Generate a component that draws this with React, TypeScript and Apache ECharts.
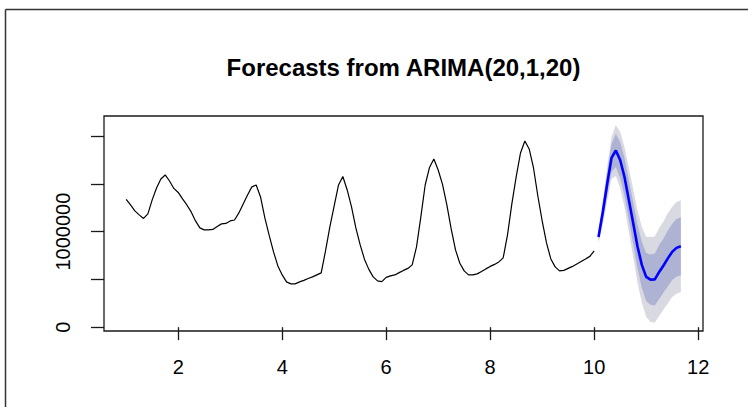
import React, { useEffect, useRef } from "react";
import * as echarts from "echarts";

// ---- data ----
const START_TIME = 1;
const FREQUENCY = 12;
const titleText = "Forecasts from ARIMA(20,1,20)";

const actual = [
  1337000, 1279000, 1217000, 1175000, 1138000, 1185000, 1332000, 1457000, 1551000, 1593000, 1530000, 1452000,
  1410000, 1342000, 1279000, 1206000, 1112000, 1039000, 1018000, 1018000, 1023000, 1054000, 1081000, 1086000,
  1112000, 1122000, 1196000, 1290000, 1384000, 1468000, 1488000, 1363000, 1143000, 960000, 788000, 641000,
  547000, 474000, 453000, 453000, 474000, 490000, 510000, 526000, 547000, 568000, 798000, 1049000,
  1269000, 1488000, 1577000, 1436000, 1258000, 1039000, 861000, 709000, 605000, 526000, 484000, 477000,
  521000, 537000, 547000, 571000, 594000, 615000, 652000, 840000, 1154000, 1488000, 1672000, 1760000,
  1645000, 1494000, 1279000, 1028000, 809000, 669000, 589000, 547000, 547000, 558000, 582000, 610000,
  636000, 657000, 683000, 725000, 966000, 1290000, 1572000, 1823000, 1949000, 1865000, 1666000, 1373000,
  1112000, 882000, 714000, 631000, 589000, 594000, 615000, 636000, 662000, 688000, 714000, 741000,
  798000,
];

const forecastMean = [
  944000, 1206000, 1499000, 1771000, 1849000, 1750000, 1572000, 1332000, 1091000, 845000,
  652000, 526000, 498000, 500000, 578000, 646000, 720000, 788000, 830000, 847000,
];
const lower80 = [
  902000, 1122000, 1384000, 1625000, 1676000, 1562000, 1373000, 1123000, 871000, 615000,
  411000, 275000, 236000, 228000, 296000, 364000, 427000, 495000, 527000, 544000,
];
const upper80 = [
  986000, 1290000, 1614000, 1917000, 2022000, 1938000, 1771000, 1541000, 1311000, 1075000,
  893000, 777000, 760000, 772000, 860000, 928000, 1013000, 1081000, 1133000, 1150000,
];
const lower95 = [
  881000, 1080000, 1321000, 1551000, 1582000, 1457000, 1258000, 997000, 735000, 468000,
  255000, 108000, 53000, 50000, 118000, 186000, 249000, 317000, 349000, 366000,
];
const upper95 = [
  1007000, 1332000, 1677000, 1991000, 2116000, 2043000, 1886000, 1667000, 1447000, 1222000,
  1049000, 944000, 943000, 950000, 1038000, 1106000, 1191000, 1259000, 1311000, 1328000,
];

const xTickValues = [2, 4, 6, 8, 10, 12];
const yTickValues = [0, 500000, 1000000, 1500000, 2000000];
const yLabelValues = [0, 1000000];

const X_MIN = 0.573;
const X_MAX = 12.093;
const Y_MIN = -40000;
const Y_MAX = 2210000;

const timeAt = (i: number) => START_TIME + i / FREQUENCY;

export default function App() {
  const ref = useRef<HTMLDivElement>(null);

  useEffect(() => {
    if (!ref.current) return;
    const chart = echarts.init(ref.current, null, { renderer: "svg" });
    const n0 = actual.length;
    const fTime = (i: number) => timeAt(n0 + i);

    const histData = actual.map((v, i) => [timeAt(i), v]);
    const fcData = forecastMean.map((v, i) => [fTime(i), v]);
    const band95 = lower95.map((v, i) => [fTime(i), v, upper95[i]]);
    const band80 = lower80.map((v, i) => [fTime(i), v, upper80[i]]);

    const bandSeries = (data: number[][], fill: string) => ({
      type: "custom",
      silent: true,
      data,
      encode: { x: 0, y: [1, 2] },
      renderItem: (params: any, api: any) => {
        if (params.dataIndex !== 0) return null;
        const upperPts = data.map((d) => api.coord([d[0], d[2]]));
        const lowerPts = data.map((d) => api.coord([d[0], d[1]])).reverse();
        return {
          type: "polygon",
          shape: { points: upperPts.concat(lowerPts) },
          style: { fill, stroke: null },
        };
      },
      z: 1,
    });

    const font = "'Liberation Sans', Arial, sans-serif";

    chart.setOption({
      animation: false,
      backgroundColor: "#ffffff",
      grid: {
        left: 104,
        top: 116,
        width: 599,
        height: 215,
        show: true,
        borderColor: "#1a1a1a",
        borderWidth: 1.3,
        backgroundColor: "transparent",
        containLabel: false,
      },
      xAxis: {
        type: "value",
        min: X_MIN,
        max: X_MAX,
        axisLine: { show: false },
        splitLine: { show: false },
        axisTick: {
          show: true,
          inside: false,
          length: 13,
          customValues: xTickValues,
          lineStyle: { color: "#1a1a1a", width: 1.3 },
        },
        axisLabel: {
          show: true,
          customValues: xTickValues,
          formatter: (v: number) => String(v),
          margin: 26,
          fontSize: 20,
          fontFamily: font,
          color: "#000",
        },
      },
      yAxis: {
        type: "value",
        min: Y_MIN,
        max: Y_MAX,
        axisLine: { show: false },
        splitLine: { show: false },
        axisTick: {
          show: true,
          inside: false,
          length: 13,
          customValues: yTickValues,
          lineStyle: { color: "#1a1a1a", width: 1.3 },
        },
        axisLabel: {
          show: true,
          customValues: yLabelValues,
          formatter: (v: number) => String(v),
          rotate: 90,
          margin: 31,
          fontSize: 20,
          fontFamily: font,
          color: "#000",
        },
      },
      graphic: [
        {
          type: "line",
          shape: { x1: 5.5, y1: 9.5, x2: 748, y2: 9.5 },
          style: { stroke: "#333", lineWidth: 1.5 },
        },
        {
          type: "line",
          shape: { x1: 5.5, y1: 9.5, x2: 5.5, y2: 407 },
          style: { stroke: "#333", lineWidth: 1.5 },
        },
        {
          type: "text",
          x: 403.5,
          y: 67,
          style: {
            text: titleText,
            align: "center",
            verticalAlign: "middle",
            font: `bold 24px ${font}`,
            fill: "#000",
          },
        },
      ],
      series: [
        bandSeries(band95, "#D9D9E2"),
        bandSeries(band80, "#AEB3D3"),
        {
          type: "line",
          data: histData,
          showSymbol: false,
          symbol: "none",
          lineStyle: { color: "#000", width: 1.2 },
          z: 3,
        },
        {
          type: "line",
          data: fcData,
          showSymbol: false,
          symbol: "none",
          lineStyle: { color: "#0000FF", width: 2.6 },
          z: 4,
        },
      ],
    });

    return () => chart.dispose();
  }, []);

  return (
    <div
      ref={ref}
      style={{ position: "fixed", left: 0, top: 0, width: 748, height: 407, background: "#fff" }}
    />
  );
}
